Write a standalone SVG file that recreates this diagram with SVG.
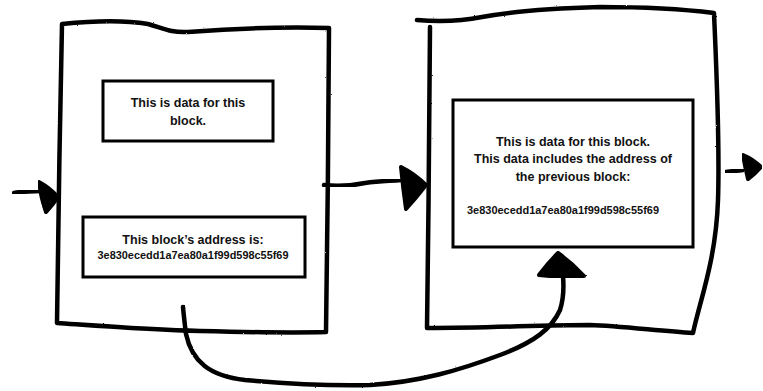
<svg xmlns="http://www.w3.org/2000/svg" width="763" height="391" viewBox="0 0 763 391">
  <defs>
    <filter id="rough" x="-5%" y="-5%" width="110%" height="110%">
      <feTurbulence type="fractalNoise" baseFrequency="0.9" numOctaves="2" seed="3" result="n"/>
      <feDisplacementMap in="SourceGraphic" in2="n" scale="1.6" xChannelSelector="R" yChannelSelector="G"/>
    </filter>
  </defs>
  <style>
    .sketch { fill: none; stroke: #000; stroke-width: 4.5; stroke-linecap: round; stroke-linejoin: round; }
    .head { fill: #000; stroke: #000; stroke-width: 4; stroke-linejoin: round; }
    .inner { fill: #fff; stroke: #000; stroke-width: 3; }
    .t { font-family: "Liberation Sans", Arial, sans-serif; font-weight: bold; font-size: 12.5px; fill: #111; text-anchor: middle; }
    .h { font-family: "Liberation Sans", Arial, sans-serif; font-weight: bold; font-size: 10.5px; fill: #111; text-anchor: middle; }
  </style>
  <rect width="763" height="391" fill="#fff"/>

  <g id="block1">
    <path class="sketch" filter="url(#rough)" d="M62,24 C90,21 125,20 148,24 C163,28 170,33 188,32 C240,28 295,27 329,28 C329,110 327,250 326,332 C290,333 240,332 200,331 C150,330 100,326 57,323 C58,230 60,120 62,24 Z"/>
    <g id="data1">
      <rect class="inner" x="103" y="81" width="170" height="60"/>
      <text class="t" x="188" y="107">This is data for this</text>
      <text class="t" x="188" y="125">block.</text>
    </g>
    <g id="address1">
      <rect class="inner" x="83" y="217" width="222" height="60"/>
      <text class="t" x="193" y="244">This block’s address is:</text>
      <text class="h" x="193" y="259" textLength="191" lengthAdjust="spacingAndGlyphs">3e830ecedd1a7ea80a1f99d598c55f69</text>
    </g>
  </g>

  <g id="block2">
    <path class="sketch" filter="url(#rough)" d="M417,20 C440,22 462,21 482,17 C520,10 560,8 600,7 C650,7 690,10 714,13 C716,60 720,140 718,200 C716,260 700,300 693,333 C660,331 620,326 590,325 C540,325 490,328 427,328 C428,230 430,120 430,27"/>
    <g id="data2">
      <rect class="inner" x="453" y="100" width="240" height="147"/>
      <text class="t" x="573" y="146">This is data for this block.</text>
      <text class="t" x="573" y="163">This data includes the address of</text>
      <text class="t" x="573" y="181">the previous block:</text>
      <text class="h" x="563" y="214" textLength="192" lengthAdjust="spacingAndGlyphs">3e830ecedd1a7ea80a1f99d598c55f69</text>
    </g>
  </g>

  <g id="connectors">
    <path class="sketch" filter="url(#rough)" d="M14,193 C22,191 30,192 40,191"/>
    <path class="head" filter="url(#rough)" d="M39,182 Q50,188 58,197 Q52,206 46,212 Q41,198 39,182 Z"/>

    <path class="sketch" filter="url(#rough)" d="M324,185 C340,187 355,185 365,183 C380,181 390,181 401,180"/>
    <path class="head" filter="url(#rough)" d="M401,167 Q415,174 426,185 Q416,198 406,209 Q403,188 401,167 Z"/>

    <path class="sketch" filter="url(#rough)" d="M726,172 C732,171 737,171 743,170"/>
    <path class="head" filter="url(#rough)" d="M743,155 Q753,159 761,167 Q755,174 748,179 Q745,167 743,155 Z"/>

    <path class="sketch" filter="url(#rough)" d="M183,307 C184,318 185,326 186,334 C192,362 210,376 245,380 C290,384 330,386 370,385 C420,382 460,370 500,355 C535,342 552,328 560,310 C564,298 564,288 563,276"/>
    <path class="head" filter="url(#rough)" d="M558,253 Q572,263 584,276 Q561,278 539,275 Q548,263 558,253 Z"/>
  </g>
</svg>
